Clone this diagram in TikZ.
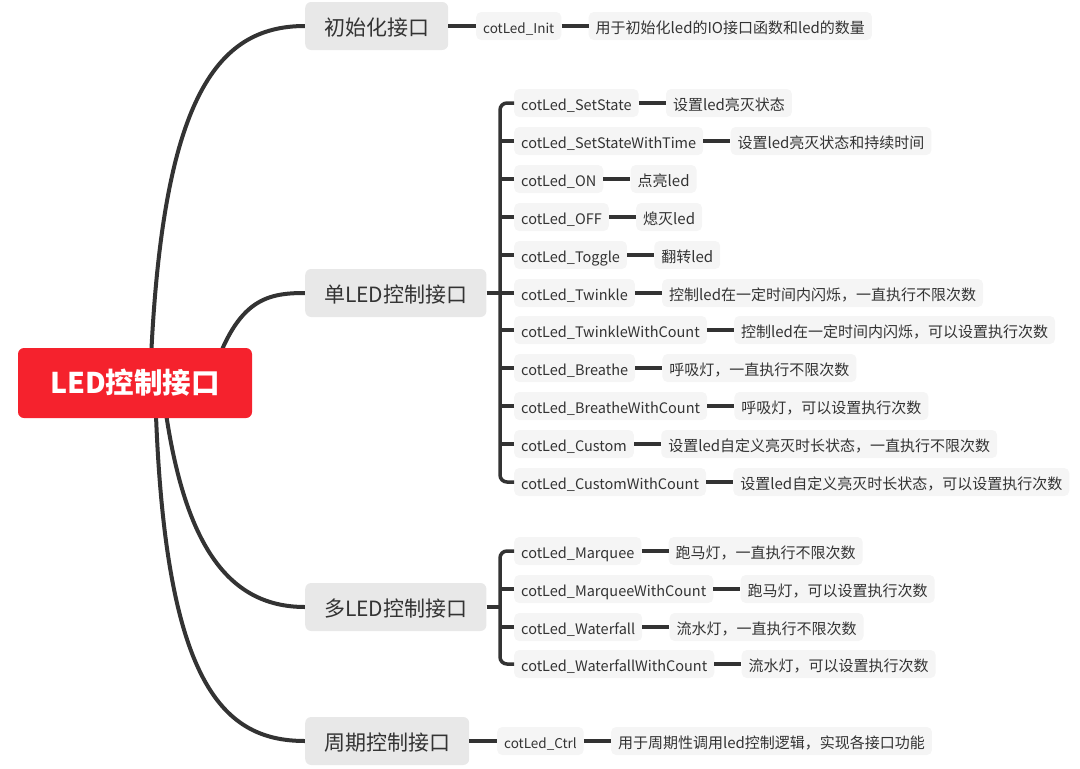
\documentclass[tikz,border=0pt]{standalone}
\usepackage{fontspec}
\setmainfont{Noto Sans CJK SC}
\usetikzlibrary{positioning}
\pgfdeclarelayer{bg}
\pgfsetlayers{bg,main}
\definecolor{linec}{HTML}{333333}
\definecolor{rootred}{HTML}{F5222D}
\definecolor{topicgray}{HTML}{E8E8E8}
\definecolor{leafgray}{HTML}{F5F5F5}
\definecolor{txt}{HTML}{333333}
\begin{document}
\begin{tikzpicture}[x=1pt,y=-1pt,
 conn/.style={draw=linec, line width=3.5pt},
 rconn/.style={draw=linec, line width=4pt},
 rootbox/.style={fill=rootred, rounded corners=6pt, minimum width=234pt, minimum height=70pt, text=white, font=\fontsize{28.5}{32}\selectfont\bfseries},
 topic/.style={fill=topicgray, rounded corners=6pt, minimum height=48pt, inner xsep=19pt, text=txt, text height=20pt, text depth=2pt, font=\fontsize{21}{25}\selectfont},
 leaf/.style={fill=leafgray, rounded corners=5pt, minimum height=28pt, inner xsep=7pt, inner ysep=0pt, text=txt, text height=15pt, text depth=1pt, font=\fontsize{14.5}{16}\selectfont},
 desc/.style={leaf, font=\fontsize{15}{17}\selectfont},
 small/.style={font=\fontsize{13.5}{15}\selectfont},
 gap/.style={right=27pt of #1},
]
\useasboundingbox (0,0) rectangle (1080,769);

\node[rootbox] (root) at (135,383) {LED控制接口};

\node[topic, anchor=west] (t1) at (305,26) {初始化接口};
\node[topic, anchor=west] (t2) at (305,293) {单LED控制接口};
\node[topic, anchor=west] (t3) at (305,607) {多LED控制接口};
\node[topic, anchor=west] (t4) at (305,741) {周期控制接口};

% init
\node[leaf, small, anchor=west] (i1) at (476,26) {cotLed\_Init};
\node[desc, gap=i1] (i1d) {用于初始化led的IO接口函数和led的数量};
\draw[conn] (t1.east) -- (i1.west);
\draw[conn] (i1.east) -- (i1d.west);

% single LED
\node[leaf, anchor=west] (s1) at (514,103) {cotLed\_SetState};
\node[leaf, anchor=west] (s2) at (514,141) {cotLed\_SetStateWithTime};
\node[leaf, anchor=west] (s3) at (514,179) {cotLed\_ON};
\node[leaf, anchor=west] (s4) at (514,217) {cotLed\_OFF};
\node[leaf, anchor=west] (s5) at (514,255) {cotLed\_Toggle};
\node[leaf, anchor=west] (s6) at (514,293) {cotLed\_Twinkle};
\node[leaf, anchor=west] (s7) at (514,330) {cotLed\_TwinkleWithCount};
\node[leaf, anchor=west] (s8) at (514,368) {cotLed\_Breathe};
\node[leaf, anchor=west] (s9) at (514,406) {cotLed\_BreatheWithCount};
\node[leaf, anchor=west] (s10) at (514,444) {cotLed\_Custom};
\node[leaf, anchor=west] (s11) at (514,482) {cotLed\_CustomWithCount};

\node[desc, gap=s1] (d1) {设置led亮灭状态};
\node[desc, gap=s2] (d2) {设置led亮灭状态和持续时间};
\node[desc, gap=s3] (d3) {点亮led};
\node[desc, gap=s4] (d4) {熄灭led};
\node[desc, gap=s5] (d5) {翻转led};
\node[desc, gap=s6] (d6) {控制led在一定时间内闪烁，一直执行不限次数};
\node[desc, gap=s7] (d7) {控制led在一定时间内闪烁，可以设置执行次数};
\node[desc, gap=s8] (d8) {呼吸灯，一直执行不限次数};
\node[desc, gap=s9] (d9) {呼吸灯，可以设置执行次数};
\node[desc, gap=s10] (d10) {设置led自定义亮灭时长状态，一直执行不限次数};
\node[desc, gap=s11] (d11) {设置led自定义亮灭时长状态，可以设置执行次数};

\coordinate (b2) at (500,293);
\draw[conn] (t2.east) -- (b2);
\draw[conn, rounded corners=7pt] (s1.west) -| (b2) |- (s11.west);
\foreach \i in {2,...,10} {\draw[conn] (s\i.west) -- (s\i.west -| b2);}
\foreach \i in {1,...,11} {\draw[conn] (s\i.east) -- (d\i.west);}

% multi LED
\node[leaf, anchor=west] (m1) at (514,551) {cotLed\_Marquee};
\node[leaf, anchor=west] (m2) at (514,589) {cotLed\_MarqueeWithCount};
\node[leaf, anchor=west] (m3) at (514,627) {cotLed\_Waterfall};
\node[leaf, anchor=west] (m4) at (514,664) {cotLed\_WaterfallWithCount};
\node[desc, gap=m1] (e1) {跑马灯，一直执行不限次数};
\node[desc, gap=m2] (e2) {跑马灯，可以设置执行次数};
\node[desc, gap=m3] (e3) {流水灯，一直执行不限次数};
\node[desc, gap=m4] (e4) {流水灯，可以设置执行次数};

\coordinate (b3) at (500,607);
\draw[conn] (t3.east) -- (b3);
\draw[conn, rounded corners=7pt] (m1.west) -| (b3) |- (m4.west);
\foreach \i in {2,3} {\draw[conn] (m\i.west) -- (m\i.west -| b3);}
\foreach \i in {1,...,4} {\draw[conn] (m\i.east) -- (e\i.west);}

% periodic
\node[leaf, small, anchor=west] (p1) at (497,741) {cotLed\_Ctrl};
\node[desc, gap=p1] (p1d) {用于周期性调用led控制逻辑，实现各接口功能};
\draw[conn] (t4.east) -- (p1.west);
\draw[conn] (p1.east) -- (p1d.west);

% root curves
\begin{pgfonlayer}{bg}
\draw[rconn] (150,383) .. controls (160,100) and (215,26) .. (t1.west);
\draw[rconn] (210,383) .. controls (235,300) and (265,293) .. (t2.west);
\draw[rconn] (162,383) .. controls (180,540) and (225,607) .. (t3.west);
\draw[rconn] (155,383) .. controls (162,680) and (220,741) .. (t4.west);
\end{pgfonlayer}
\end{tikzpicture}
\end{document}
